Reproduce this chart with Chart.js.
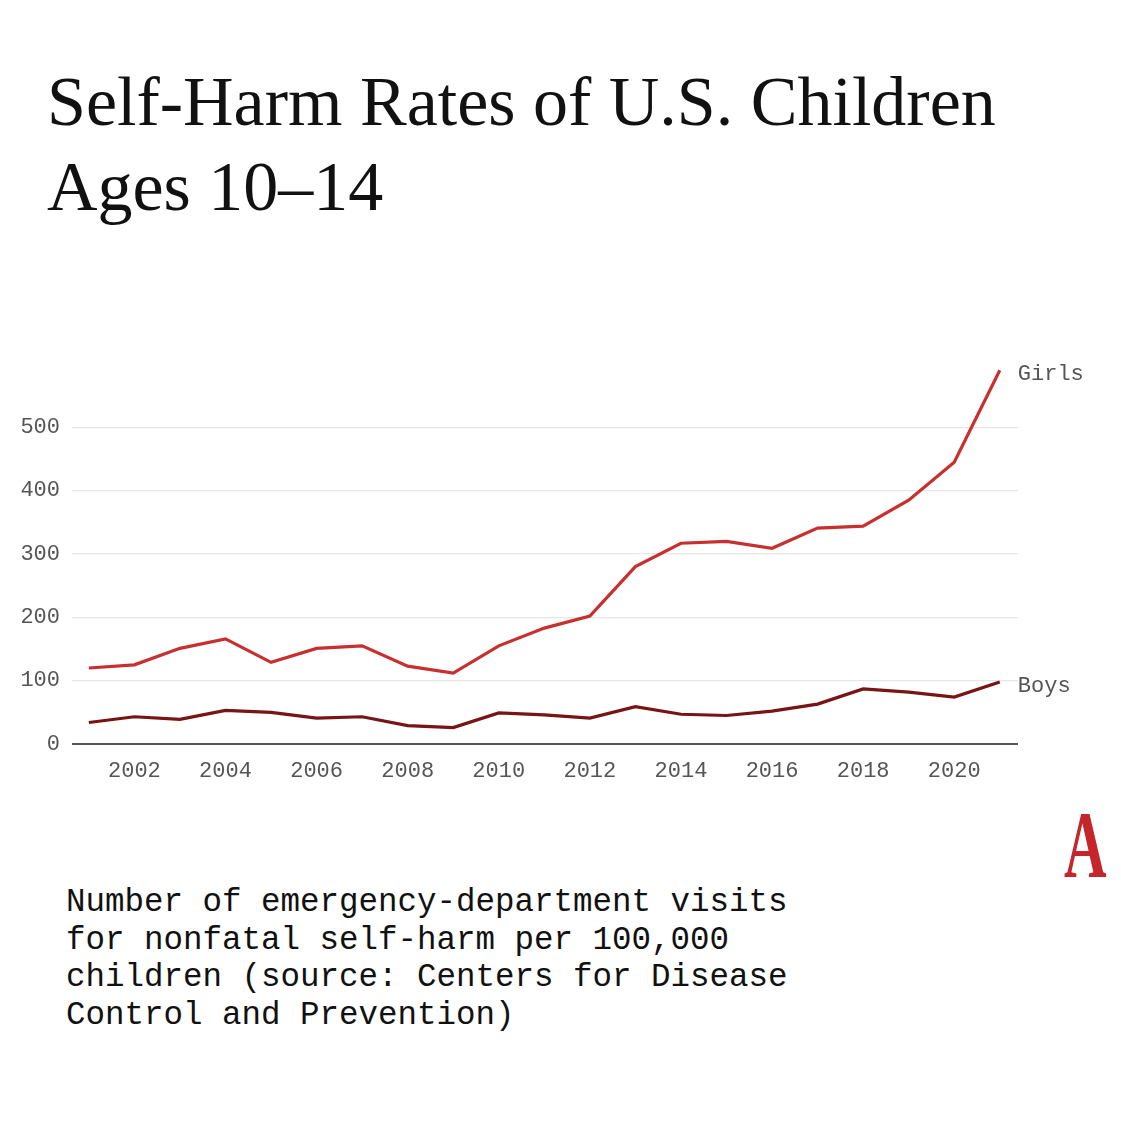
<!DOCTYPE html>
<html>
<head>
<meta charset="utf-8">
<script src="https://cdn.jsdelivr.net/npm/chart.js@4.4.1/dist/chart.umd.min.js"></script>
<style>
html, body { margin: 0; padding: 0; background: #fff; }
#page { position: relative; width: 1121px; height: 1121px; overflow: hidden; background: #fff; }
#title {
    position: absolute; left: 47px; top: 59px;
    font-family: "Liberation Serif", "DejaVu Serif", serif;
    font-size: 70px; line-height: 85px; color: #111;
    white-space: nowrap;
}
#chartBox { position: absolute; left: 0; top: 300px; width: 1121px; height: 500px; }
#caption {
    position: absolute; left: 66px; top: 884px;
    font-family: "Liberation Mono", "DejaVu Sans Mono", monospace;
    font-size: 32.5px; line-height: 37.5px; color: #111;
    white-space: pre;
}
#logo {
    position: absolute; left: 1064px; top: 798px;
    font-family: "Liberation Serif", serif; font-weight: bold;
    font-size: 95px; line-height: 95px; color: #c4262b;
    transform: scaleX(0.62); transform-origin: left top;
}
</style>
</head>
<body>
<div id="page">
    <div id="title">Self-Harm Rates of U.S. Children<br>Ages 10–14</div>
    <div id="chartBox"><canvas id="myChart"></canvas></div>
    <div id="caption">Number of emergency-department visits
for nonfatal self-harm per 100,000
children (source: Centers for Disease
Control and Prevention)</div>
    <div id="logo">A</div>
</div>
<script>
const years = [2001, 2002, 2003, 2004, 2005, 2006, 2007, 2008, 2009, 2010, 2011,
    2012, 2013, 2014, 2015, 2016, 2017, 2018, 2019, 2020, 2021];
const girls = [120, 125, 151, 166, 129, 151, 155, 123, 112, 155, 183,
    202, 280, 317, 320, 309, 341, 344, 385, 445, 590];
const boys = [34, 43, 39, 53, 50, 41, 43, 29, 26, 49, 46,
    41, 59, 47, 45, 52, 63, 87, 82, 74, 98];
const seriesNames = ['Girls', 'Boys'];
const xTicks = [2002, 2004, 2006, 2008, 2010, 2012, 2014, 2016, 2018, 2020];
const yTicks = [0, 100, 200, 300, 400, 500];

const monoFont = '"Liberation Mono", "DejaVu Sans Mono", monospace';

function toPoints(values) {
    return values.map((v, i) => ({x: years[i], y: v}));
}

// write the series name next to the last point of each line
const endLabels = {
    id: 'endLabels',
    afterDatasetsDraw(chart) {
        const ctx = chart.ctx;
        ctx.save();
        ctx.font = '22px ' + monoFont;
        ctx.fillStyle = '#555';
        ctx.textAlign = 'left';
        ctx.textBaseline = 'middle';
        chart.data.datasets.forEach((ds, i) => {
            const pts = chart.getDatasetMeta(i).data;
            const last = pts[pts.length - 1];
            ctx.fillText(ds.label, last.x + 18, last.y + 4);
        });
        ctx.restore();
    }
};

const ctx = document.getElementById('myChart');
const chartGraphic = new Chart(ctx, {
    type: 'line',
    data: {
        datasets: [
            {
                label: seriesNames[0],
                data: toPoints(girls),
                borderColor: '#c8302f',
                borderWidth: 3.2,
                pointRadius: 0,
                tension: 0
            },
            {
                label: seriesNames[1],
                data: toPoints(boys),
                borderColor: '#781414',
                borderWidth: 3.2,
                pointRadius: 0,
                tension: 0
            },
        ]
    },
    options: {
        responsive: true,
        maintainAspectRatio: false,
        animation: false,
        layout: {padding: {left: 0, right: 103, top: 64, bottom: 0}},
        plugins: {
            legend: {display: false},
            tooltip: {enabled: false}
        },
        scales: {
            x: {
                type: 'linear',
                min: 2000.63,
                max: 2021.4,
                afterBuildTicks: (scale) => { scale.ticks = xTicks.map(v => ({value: v})); },
                afterFit: (scale) => { scale.height = 56; },
                grid: {display: false, drawTicks: false},
                border: {display: false},
                ticks: {
                    font: {family: monoFont, size: 22},
                    color: '#555',
                    padding: 14,
                    maxRotation: 0,
                    callback: (v) => String(v)
                }
            },
            y: {
                min: 0,
                max: 600,
                afterBuildTicks: (scale) => { scale.ticks = yTicks.map(v => ({value: v})); },
                afterFit: (scale) => { scale.width = 72; },
                grid: {
                    drawTicks: false,
                    color: (c) => c.tick && c.tick.value === 0 ? '#555' : '#e6e6e6',
                    lineWidth: (c) => c.tick && c.tick.value === 0 ? 2 : 1.3
                },
                border: {display: false},
                ticks: {
                    font: {family: monoFont, size: 22},
                    color: '#555',
                    padding: 12
                }
            }
        }
    },
    plugins: [endLabels]
});
</script>
</body>
</html>
